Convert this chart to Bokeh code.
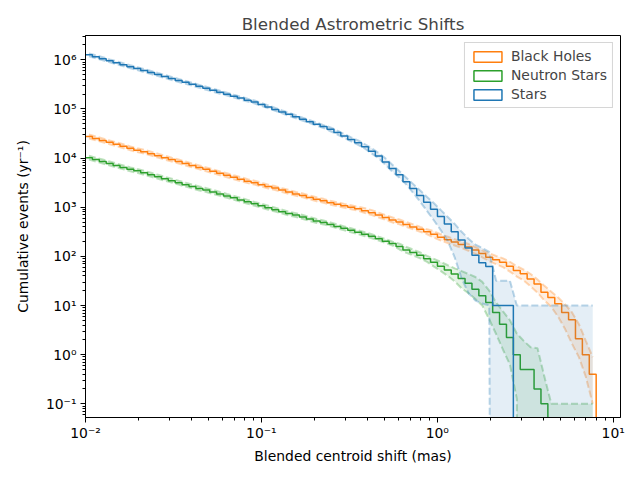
import numpy as np
from bokeh.plotting import figure
from bokeh.models import Range1d, FixedTicker, CustomJSTickFormatter, Legend, LegendItem
from bokeh.embed import file_html
from bokeh.resources import INLINE

# ---- histogram binning (log-spaced bins) ----
bin_min, bin_max, n_bins = 0.01, 8.0, 74

series_names = ["Black Holes", "Neutron Stars", "Stars"]
series_colors = ["#ff7f0e", "#2ca02c", "#1f77b4"]

# ---- cumulative events per bin (yr^-1): median, lower and upper band ----
bh_med = [27500, 25100, 22900, 20900, 19100, 17400, 15800, 14500, 13500, 12300,
          11200, 10200, 9330, 8510, 7760, 7080, 6460, 5890, 5370, 4900,
          4470, 4070, 3720, 3390, 3160, 2880, 2630, 2450, 2240, 2040,
          1860, 1740, 1580, 1450, 1350, 1230, 1150, 1070, 1000, 933,
          851, 776, 692, 617, 550, 501, 447, 398, 355, 316,
          282, 245, 219, 195, 174, 155, 135, 115, 95.5, 85.1,
          75.9, 63.1, 51.3, 44.2, 34.7, 27.5, 18.6, 14.5, 10.8, 7.2,
          5.1, 2.1, 1.0, 0.4]
bh_hi = [30100, 27500, 25100, 22900, 20900, 19100, 17300, 15900, 14800, 13500,
         12300, 11200, 10200, 9330, 8510, 7760, 7080, 6460, 5890, 5370,
         4900, 4460, 4080, 3720, 3460, 3160, 2880, 2690, 2450, 2240,
         2040, 1910, 1730, 1590, 1480, 1350, 1260, 1170, 1100, 1020,
         955, 871, 776, 692, 617, 562, 502, 447, 398, 355,
         324, 281, 251, 224, 200, 178, 155, 132, 115, 102,
         91.2, 77.6, 63.1, 53.7, 43.7, 33.9, 25.1, 19.1, 14.5, 10.5,
         7.24, 4.17, 1.91, 0.89]
bh_lo = [25100, 22900, 20900, 19100, 17400, 15900, 14400, 13200, 12300, 11200,
         10200, 9310, 8510, 7760, 7080, 6460, 5890, 5370, 4900, 4470,
         4080, 3710, 3390, 3090, 2880, 2630, 2400, 2240, 2040, 1860,
         1700, 1590, 1440, 1320, 1230, 1120, 1050, 976, 912, 851,
         758, 692, 617, 550, 490, 447, 398, 355, 316, 282,
         240, 209, 186, 166, 148, 129, 112, 95.5, 79.4, 69.2,
         60.3, 49.0, 38.9, 32.4, 24.5, 18.2, 12.6, 9.33, 5.89, 3.31,
         1.66, 0.89, 0.355, 0.1]

ns_med = [10200, 9330, 8510, 7760, 7080, 6460, 5890, 5500, 5010, 4570,
          4170, 3800, 3470, 3160, 2880, 2630, 2400, 2240, 2040, 1860,
          1700, 1550, 1410, 1290, 1170, 1070, 977, 891, 813, 741,
          692, 631, 575, 525, 490, 447, 407, 372, 339, 309,
          282, 257, 229, 204, 182, 158, 135, 120, 105, 89.1,
          75.9, 63.1, 52.5, 43.7, 35.5, 28.2, 21.4, 15.8, 11.5, 7.24,
          4.17, 2.24, 1.0, 0.5, 0.5, 0.2, 0.1, 0, 0, 0,
          0, 0, 0, 0]
ns_hi = [11200, 10200, 9330, 8510, 7760, 7080, 6460, 6030, 5490, 5010,
         4570, 4160, 3800, 3460, 3160, 2880, 2630, 2450, 2240, 2040,
         1860, 1700, 1550, 1410, 1280, 1170, 1070, 977, 891, 812,
         758, 692, 630, 575, 537, 490, 446, 408, 372, 339,
         309, 282, 251, 224, 199, 181, 155, 137, 120, 102,
         89.0, 77.0, 66.0, 57.0, 50.1, 43.7, 38.0, 30.2, 20.0, 11.5,
         7.59, 5.01, 2.69, 1.91, 1.41, 1.35, 0.355, 0.1, 0.1, 0.1,
         0.1, 0.1, 0.1, 0.1]
ns_lo = [9310, 8510, 7760, 7080, 6460, 5890, 5370, 5020, 4570, 4170,
         3800, 3470, 3170, 2880, 2630, 2400, 2190, 2040, 1860, 1700,
         1550, 1410, 1290, 1180, 1070, 976, 891, 813, 742, 676,
         631, 576, 525, 479, 447, 408, 371, 339, 309, 282,
         257, 234, 209, 186, 166, 138, 118, 104, 91.0, 77.0,
         62.0, 50.0, 40.0, 31.0, 22.4, 17.8, 13.5, 10.0, 5.25, 2.63,
         1.26, 0.63, 0.126, 0, 0, 0, 0, 0, 0, 0,
         0, 0, 0, 0]

st_med = [1.26e6, 1.15e6, 1.05e6, 9.55e5, 8.71e5, 7.94e5, 7.24e5, 6.61e5, 6.03e5, 5.50e5,
          5.01e5, 4.57e5, 4.17e5, 3.80e5, 3.47e5, 3.16e5, 2.88e5, 2.63e5, 2.40e5, 2.19e5,
          2.00e5, 1.82e5, 1.66e5, 1.51e5, 1.38e5, 1.23e5, 1.10e5, 9.77e4, 8.71e4, 7.76e4,
          6.92e4, 6.17e4, 5.50e4, 4.90e4, 4.37e4, 3.85e4, 3.31e4, 2.82e4, 2.40e4, 2.04e4,
          1.70e4, 1.38e4, 1.10e4, 8320, 6170, 4570, 3310, 2400, 1740, 1260,
          912, 646, 457, 316, 214, 148, 105, 74, 62, 10,
          10, 10, 0, 0, 0, 0, 0, 0, 0, 0,
          0, 0, 0, 0]
st_hi = [1.35e6, 1.23e6, 1.13e6, 1.02e6, 9.34e5, 8.51e5, 7.76e5, 7.09e5, 6.46e5, 5.90e5,
         5.37e5, 4.90e5, 4.47e5, 4.07e5, 3.72e5, 3.39e5, 3.09e5, 2.82e5, 2.57e5, 2.35e5,
         2.14e5, 1.95e5, 1.78e5, 1.62e5, 1.48e5, 1.32e5, 1.18e5, 1.05e5, 9.34e4, 8.32e4,
         7.42e4, 6.61e4, 5.90e4, 5.25e4, 4.68e4, 4.22e4, 3.63e4, 3.09e4, 2.63e4, 2.29e4,
         1.91e4, 1.58e4, 1.26e4, 9770, 7240, 5370, 3980, 2950, 2190, 1620,
         1200, 871, 631, 457, 316, 229, 174, 148, 123, 32,
         32, 32, 10, 10, 10, 10, 10, 10, 10, 10,
         10, 10, 10, 10]
st_lo = [1.18e6, 1.07e6, 9.79e5, 8.91e5, 8.13e5, 7.41e5, 6.75e5, 6.17e5, 5.63e5, 5.13e5,
         4.67e5, 4.26e5, 3.89e5, 3.54e5, 3.24e5, 2.95e5, 2.69e5, 2.45e5, 2.24e5, 2.04e5,
         1.87e5, 1.70e5, 1.55e5, 1.41e5, 1.29e5, 1.15e5, 1.03e5, 9.11e4, 8.13e4, 7.24e4,
         6.46e4, 5.76e4, 5.13e4, 4.57e4, 4.08e4, 3.51e4, 3.02e4, 2.57e4, 2.19e4, 1.86e4,
         1.55e4, 1.23e4, 9800, 7240, 5250, 3980, 2880, 1950, 1290, 832,
         537, 339, 204, 95.5, 35.5, 17.8, 12.6, 11.0, 10.0, 0,
         0, 0, 0, 0, 0, 0, 0, 0, 0, 0,
         0, 0, 0, 0]

series_med = [bh_med, ns_med, st_med]
series_lo = [bh_lo, ns_lo, st_lo]
series_hi = [bh_hi, ns_hi, st_hi]

x_ticks = [0.01, 0.1, 1, 10]
y_ticks = [1e-1, 1e0, 1e1, 1e2, 1e3, 1e4, 1e5, 1e6]

# ---------------------------------------------------------------
edges = np.logspace(np.log10(bin_min), np.log10(bin_max), n_bins + 1)
centers = np.sqrt(edges[:-1] * edges[1:])
FLOOR = 1e-30  # stands in for zero on the log axis


def pos(a):
    a = np.asarray(a, dtype=float)
    assert len(a) == n_bins, len(a)
    return np.where(a > 0, a, FLOOR)


FONT = "DejaVu Sans"

p = figure(width=636, height=476, x_axis_type="log", y_axis_type="log",
           x_range=Range1d(0.01, 11.0), y_range=Range1d(0.0526, 3.12e6),
           output_backend="svg", toolbar_location=None,
           min_border_left=85, min_border_right=16, min_border_top=35, min_border_bottom=59,
           title="Blended Astrometric Shifts")
p.background_fill_color = "white"
p.border_fill_color = "white"
p.outline_line_color = "black"
p.outline_line_width = 1
p.xgrid.visible = False
p.ygrid.visible = False

p.title.text_font = FONT
p.title.text_font_size = "16.7px"
p.title.text_font_style = "normal"
p.title.align = "center"
p.title.standoff = 4

legend_items = []
for name, col, med, lo, hi in zip(series_names, series_colors, series_med, series_lo, series_hi):
    lo_p, hi_p = pos(lo), pos(hi)
    p.varea(x=centers, y1=lo_p, y2=hi_p, fill_color=col, fill_alpha=0.12)
    p.line(centers, lo_p, line_color=col, line_alpha=0.3, line_width=2, line_dash="7 3")
    p.line(centers, hi_p, line_color=col, line_alpha=0.3, line_width=2, line_dash="7 3")
    y_step = np.append(pos(med), FLOOR)
    p.step(edges, y_step, mode="after", line_color=col, line_width=1.5)
    # legend handle only (no visible data)
    handle = p.quad(left=[np.nan], right=[np.nan], top=[np.nan], bottom=[np.nan],
                    fill_color="white", fill_alpha=0, line_color=col, line_width=1.5)
    legend_items.append(LegendItem(label=name, renderers=[handle], index=0))

legend = Legend(items=legend_items, location="top_right")
legend.margin = 7
legend.padding = 5
legend.spacing = 3
legend.glyph_width = 35
legend.glyph_height = 13
legend.label_height = 16
legend.label_standoff = 6
legend.label_text_font = FONT
legend.label_text_font_size = "13.9px"
legend.border_line_color = "#cccccc"
legend.border_line_alpha = 0.8
legend.background_fill_alpha = 0.8
p.add_layout(legend)

sup_js = """
const sup = {"-": "\u207b", "0": "\u2070", "1": "\u00b9", "2": "\u00b2", "3": "\u00b3",
             "4": "\u2074", "5": "\u2075", "6": "\u2076", "7": "\u2077", "8": "\u2078", "9": "\u2079"};
const e = Math.round(Math.log10(tick));
return "10" + String(e).split("").map(c => sup[c]).join("");
"""

x_minor = [m * 10.0 ** e for e in range(-3, 2) for m in range(2, 10)]
y_minor = [m * 10.0 ** e for e in range(-2, 7) for m in range(2, 10)]
p.xaxis.ticker = FixedTicker(ticks=x_ticks, minor_ticks=x_minor)
p.yaxis.ticker = FixedTicker(ticks=y_ticks, minor_ticks=y_minor)
p.xaxis.formatter = CustomJSTickFormatter(code=sup_js)
p.yaxis.formatter = CustomJSTickFormatter(code=sup_js)

p.xaxis.axis_label = "Blended centroid shift (mas)"
p.yaxis.axis_label = "Cumulative events (yr\u207b\u00b9)"

for ax in (p.xaxis[0], p.yaxis[0]):
    ax.axis_line_color = "black"
    ax.major_tick_line_color = "black"
    ax.minor_tick_line_color = "black"
    ax.major_tick_out = 5
    ax.major_tick_in = 0
    ax.minor_tick_out = 3
    ax.minor_tick_in = 0
    ax.major_label_text_font = FONT
    ax.major_label_text_font_size = "13.9px"
    ax.major_label_text_color = "black"
    ax.axis_label_text_font = FONT
    ax.axis_label_text_font_size = "13.9px"
    ax.axis_label_text_font_style = "normal"
    ax.axis_label_text_color = "black"
    ax.major_label_standoff = 4
p.xaxis[0].major_label_standoff = 2
p.xaxis[0].axis_label_standoff = 4
p.yaxis[0].axis_label_standoff = 12

open("out.html", "w").write(file_html(p, INLINE))
